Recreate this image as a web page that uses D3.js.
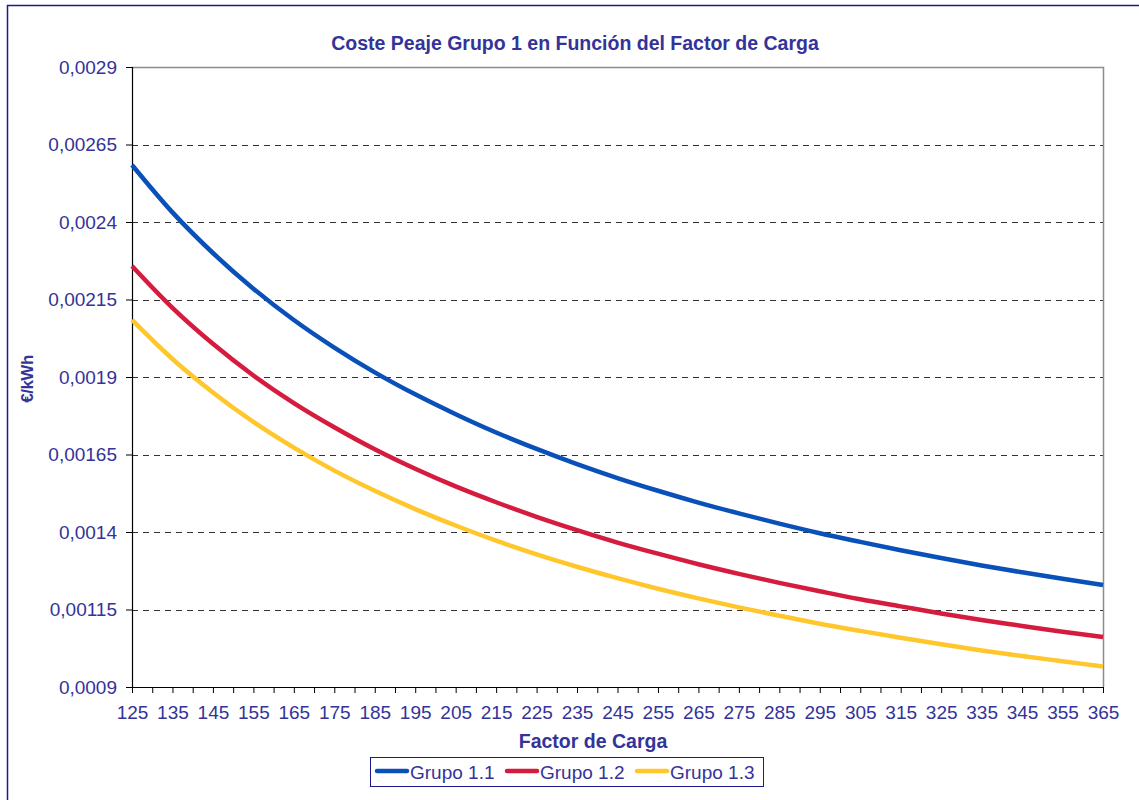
<!DOCTYPE html>
<html>
<head>
<meta charset="utf-8">
<script src="https://cdn.jsdelivr.net/npm/d3@7"></script>
<style>
  body { margin: 0; background: #fff; }
  svg { display: block; font-family: Arial, "Liberation Sans", sans-serif; }
</style>
</head>
<body>
<svg id="chart" width="1139" height="800"></svg>
<script>
// Factor de carga (x values)
const factor = [125,135,145,155,165,175,185,195,205,215,225,235,245,255,265,275,285,295,305,315,325,335,345,355,365];

// Coste peaje (€/kWh) per group
const grupo11 = [0.002584,0.002431,0.002300,0.002185,0.002084,0.001995,0.001915,0.001844,0.001780,0.001721,0.001668,0.001619,0.001574,0.001533,0.001495,0.001460,0.001427,0.001396,0.001368,0.001341,0.001316,0.001292,0.001270,0.001249,0.001229];
const grupo12 = [0.002258,0.002123,0.002007,0.001905,0.001816,0.001738,0.001667,0.001604,0.001547,0.001496,0.001449,0.001406,0.001366,0.001330,0.001296,0.001265,0.001236,0.001209,0.001183,0.001160,0.001137,0.001116,0.001097,0.001078,0.001061];
const grupo13 = [0.002084,0.001958,0.001850,0.001755,0.001672,0.001598,0.001533,0.001474,0.001421,0.001372,0.001328,0.001288,0.001251,0.001217,0.001186,0.001157,0.001130,0.001104,0.001081,0.001059,0.001038,0.001018,0.001000,0.000983,0.000966];

const seriesNames = ["Grupo 1.1", "Grupo 1.2", "Grupo 1.3"];
const seriesColors = ["#0a50b9", "#d51b3e", "#ffc72c"];

// Axis ticks
const yTicks = [0.0009,0.00115,0.0014,0.00165,0.0019,0.00215,0.0024,0.00265,0.0029];
const yTickLabels = ["0,0009","0,00115","0,0014","0,00165","0,0019","0,00215","0,0024","0,00265","0,0029"];
const xMinorTicks = d3.range(125, 366, 5);
const xLabelTicks = d3.range(125, 366, 10);

const title = "Coste Peaje Grupo 1 en Función del Factor de Carga";
const xTitle = "Factor de Carga";
const yTitle = "€/kWh";

const textColor = "#333399";
const fontFamily = "Arial, 'Liberation Sans', sans-serif";
const svg = d3.select("#chart");

// Outer chart frame
svg.append("rect")
  .attr("x", 7.5).attr("y", 5.5)
  .attr("width", 1150).attr("height", 820)
  .attr("fill", "none").attr("stroke", "#1a1a8c").attr("stroke-width", 1.5);

const plot = { left: 132, top: 67, right: 1103, bottom: 687 };

const x = d3.scaleLinear().domain([125, 365]).range([plot.left, plot.right]);
const y = d3.scaleLinear().domain([0.0009, 0.0029]).range([plot.bottom, plot.top]);

// Gridlines
svg.append("g")
  .selectAll("line")
  .data(yTicks.slice(1, -1))
  .join("line")
  .attr("x1", plot.left).attr("x2", plot.right)
  .attr("y1", d => Math.round(y(d)) + 0.5).attr("y2", d => Math.round(y(d)) + 0.5)
  .attr("stroke", "#333").attr("stroke-width", 1)
  .attr("stroke-dasharray", "6,5");

// Plot border (top/right)
svg.append("path")
  .attr("d", `M${plot.left},${plot.top + 0.5}H${plot.right + 0.5}V${plot.bottom}`)
  .attr("fill", "none").attr("stroke", "#8c8c8c").attr("stroke-width", 1.5);

// Y axis
const yAxis = d3.axisLeft(y)
  .tickValues(yTicks)
  .tickFormat((d, i) => yTickLabels[i])
  .tickSize(6).tickPadding(9);
const gy = svg.append("g").attr("transform", `translate(${plot.left},0)`).call(yAxis);
gy.select(".domain").attr("stroke", "#000").attr("stroke-width", 1.2);
gy.selectAll(".tick line").attr("stroke", "#000");
gy.selectAll(".tick text")
  .attr("fill", textColor).attr("font-size", 19)
  .attr("font-family", fontFamily);

// X axis: minor ticks every 5, labels every 10
const xAxis = d3.axisBottom(x)
  .tickValues(xMinorTicks)
  .tickFormat(d => xLabelTicks.includes(d) ? d : "")
  .tickSize(6).tickPadding(13).tickSizeOuter(0);
const gx = svg.append("g").attr("transform", `translate(0,${plot.bottom})`).call(xAxis);
gx.select(".domain").attr("stroke", "#000").attr("stroke-width", 1.2);
gx.selectAll(".tick line").attr("stroke", "#000");
gx.selectAll(".tick text")
  .attr("fill", textColor).attr("font-size", 19)
  .attr("font-family", fontFamily);

// Series lines
const allSeries = [grupo11, grupo12, grupo13];
const line = d3.line()
  .x((d, i) => x(factor[i]))
  .y(d => y(d))
  .curve(d3.curveMonotoneX);

svg.append("g")
  .selectAll("path")
  .data(allSeries)
  .join("path")
  .attr("d", d => line(d))
  .attr("fill", "none")
  .attr("stroke", (d, i) => seriesColors[i])
  .attr("stroke-width", 4.5)
  .attr("stroke-linejoin", "round");

// Title
svg.append("text")
  .attr("x", 575).attr("y", 50)
  .attr("text-anchor", "middle")
  .attr("font-size", 19.5).attr("font-weight", "bold")
  .attr("fill", textColor)
  .text(title);

// X axis title
svg.append("text")
  .attr("x", 593).attr("y", 748)
  .attr("text-anchor", "middle")
  .attr("font-size", 19.5).attr("font-weight", "bold")
  .attr("fill", textColor)
  .text(xTitle);

// Y axis title
svg.append("text")
  .attr("transform", "translate(33,379) rotate(-90)")
  .attr("text-anchor", "middle")
  .attr("font-size", 17).attr("font-weight", "bold")
  .attr("letter-spacing", -0.5)
  .attr("fill", textColor)
  .text(yTitle);

// Legend
const legend = svg.append("g").attr("transform", "translate(370,757)");
legend.append("rect")
  .attr("x", 0.5).attr("y", 0.5).attr("width", 393).attr("height", 29)
  .attr("fill", "#fff").attr("stroke", "#1a1a8c").attr("stroke-width", 1);
const legendX = [6, 136, 266];
seriesNames.forEach((name, i) => {
  const g = legend.append("g").attr("transform", `translate(${legendX[i]},0)`);
  g.append("line")
    .attr("x1", 1).attr("x2", 31).attr("y1", 14).attr("y2", 14)
    .attr("stroke", seriesColors[i]).attr("stroke-width", 4.5)
    .attr("stroke-linecap", "round");
  g.append("text")
    .attr("x", 34).attr("y", 21.5)
    .attr("font-size", 19).attr("fill", textColor)
    .text(name);
});
</script>
</body>
</html>
